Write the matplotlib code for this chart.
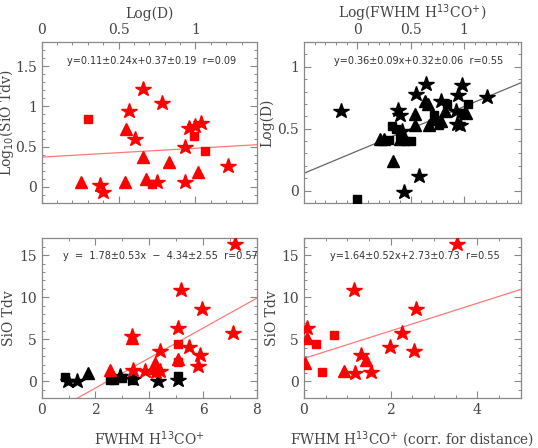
import matplotlib.pyplot as plt
from matplotlib.ticker import MultipleLocator

RED = '#ff0000'
TXT = '#444444'
FRAME = '#888888'

# --- Panel 1 (top left): Log10(SiO Tdv) vs Log(D), red
p1_star_x = [0.38, 0.40, 0.57, 0.61, 0.66, 0.75, 0.78, 0.935, 0.935, 0.96, 0.995, 1.035, 1.21]
p1_star_y = [0.02, -0.07, 0.94, 0.59, 1.22, 0.06, 1.04, 0.06, 0.50, 0.73, 0.76, 0.79, 0.26]
p1_tri_x = [0.255, 0.54, 0.55, 0.66, 0.68, 0.83, 1.02]
p1_tri_y = [0.06, 0.06, 0.72, 0.375, 0.10, 0.31, 0.19]
p1_sq_x = [0.30, 0.72, 0.99, 1.065]
p1_sq_y = [0.85, 0.04, 0.63, 0.44]
p1_fit = (0.11, 0.37)

# --- Panel 2 (top right): Log(D) vs Log(FWHM H13CO+), black
p2_star_x = [-0.15, 0.44, 0.58, 0.38, 0.40, 0.55, 0.64, 0.78, 0.92, 0.945, 0.975, 0.935, 0.96, 1.21, 0.42]
p2_star_y = [0.64, -0.01, 0.12, 0.65, 0.61, 0.78, 0.86, 0.72, 0.64, 0.77, 0.85, 0.54, 0.53, 0.76, 0.48]
p2_tri_x = [0.33, 0.21, 0.25, 0.40, 0.535, 0.535, 0.63, 0.67, 0.78, 0.82, 1.02, 0.72, 0.66]
p2_tri_y = [0.24, 0.42, 0.42, 0.42, 0.62, 0.53, 0.72, 0.53, 0.56, 0.64, 0.63, 0.58, 0.70]
p2_sq_x = [0.0, 0.32, 0.36, 0.30, 0.45, 0.50, 0.72, 0.84, 1.04, 0.97, 0.76, 0.40]
p2_sq_y = [-0.07, 0.52, 0.50, 0.41, 0.40, 0.40, 0.61, 0.70, 0.70, 0.63, 0.53, 0.44]
p2_fit = (0.36, 0.32)

# --- Panel 3 (bottom left): SiO Tdv vs FWHM H13CO+
p3_star_x = [7.19, 5.19, 5.96, 5.07, 7.11, 3.37, 5.48, 4.39, 5.90, 5.81, 3.85, 3.38, 4.25, 4.40]
p3_star_y = [16.3, 10.9, 8.6, 6.3, 5.75, 5.35, 4.05, 3.6, 3.2, 1.8, 1.2, 1.3, 1.1, 1.2]
p3_tri_x = [3.37, 2.53, 4.20, 5.07, 4.20]
p3_tri_y = [5.15, 1.3, 2.2, 2.7, 1.6]
p3_sq_x = [5.07, 5.07]
p3_sq_y = [4.4, 2.3]
p3_kstar_x = [0.99, 1.32, 2.90, 3.40, 4.33, 5.07]
p3_kstar_y = [0.04, 0.04, 0.6, 0.3, 0.04, 0.15]
p3_ktri_x = [1.73]
p3_ktri_y = [1.0]
p3_ksq_x = [0.87, 2.53, 2.70, 3.00, 3.37, 5.07]
p3_ksq_y = [0.5, 0.2, 0.2, 0.4, 0.2, 0.7]
p3_fit = (1.78, -4.34)

# --- Panel 4 (bottom right): SiO Tdv vs FWHM corrected for distance
p4_star_x = [3.54, 1.15, 2.59, 0.08, 2.25, 1.99, 2.53, 1.32, 1.17, 1.55]
p4_star_y = [16.3, 10.9, 8.6, 6.3, 5.75, 4.05, 3.6, 3.2, 0.95, 1.15]
p4_tri_x = [0.08, 1.44, 0.03, 0.92]
p4_tri_y = [5.2, 2.6, 2.2, 1.2]
p4_sq_x = [0.69, 0.28, 0.42]
p4_sq_y = [5.5, 4.4, 1.1]
p4_fit = (1.64, 2.73)

fig = plt.figure(figsize=(5.38, 4.48), dpi=100)
plt.rcParams['font.family'] = 'DejaVu Serif'

ax1 = fig.add_axes([0.0775, 0.547, 0.400, 0.359])
ax2 = fig.add_axes([0.565, 0.547, 0.403, 0.359])
ax3 = fig.add_axes([0.0775, 0.111, 0.400, 0.357])
ax4 = fig.add_axes([0.565, 0.111, 0.403, 0.357])


def pts(ax, x, y, m, c):
    ms = {'*': 11.5, '^': 8.5, 's': 6}[m]
    ax.plot(x, y, linestyle='none', marker=m, ms=ms, color=c, mec=c, zorder=3)


def style(ax, xmaj, xmin, ymaj, ymin, top=False):
    for s in ax.spines.values():
        s.set_color(FRAME)
        s.set_linewidth(0.9)
    ax.xaxis.set_major_locator(MultipleLocator(xmaj))
    ax.xaxis.set_minor_locator(MultipleLocator(xmin))
    ax.yaxis.set_major_locator(MultipleLocator(ymaj))
    ax.yaxis.set_minor_locator(MultipleLocator(ymin))
    ax.tick_params(which='both', direction='in', top=True, right=True,
                   color=FRAME, labelcolor=TXT, labelsize=10)
    ax.tick_params(which='major', length=5, width=0.8)
    ax.tick_params(which='minor', length=2.5, width=0.7)
    if top:
        ax.tick_params(labeltop=True, labelbottom=False)
        ax.xaxis.set_label_position('top')


def fmt(v, pos):
    return '%g' % v


def fit_line(ax, fit, xlim, c, lw):
    a, b = fit
    ax.plot(list(xlim), [a * xlim[0] + b, a * xlim[1] + b], color=c, lw=lw, zorder=2)


# panel 1
xl1 = (0, 1.4)
fit_line(ax1, p1_fit, xl1, '#ff7a7a', 0.9)
pts(ax1, p1_star_x, p1_star_y, '*', RED)
pts(ax1, p1_tri_x, p1_tri_y, '^', RED)
pts(ax1, p1_sq_x, p1_sq_y, 's', RED)
ax1.set_xlim(*xl1)
ax1.set_ylim(-0.2, 1.8)
style(ax1, 0.5, 0.1, 0.5, 0.1, top=True)
ax1.set_xlabel('Log(D)', fontsize=10, color=TXT, labelpad=4)
ax1.set_ylabel('Log$_{10}$(SiO Tdv)', fontsize=10, color=TXT, labelpad=-1)
ax1.text(0.51, 0.88, 'y=0.11\u00b10.24x+0.37\u00b10.19  r=0.09', transform=ax1.transAxes,
         ha='center', va='center', fontsize=7, family='DejaVu Sans', color='#333333')

# panel 2
xl2 = (-0.5, 1.53)
fit_line(ax2, p2_fit, xl2, '#666666', 0.9)
pts(ax2, p2_star_x, p2_star_y, '*', 'black')
pts(ax2, p2_tri_x, p2_tri_y, '^', 'black')
pts(ax2, p2_sq_x, p2_sq_y, 's', 'black')
ax2.set_xlim(*xl2)
ax2.set_ylim(-0.1, 1.2)
style(ax2, 0.5, 0.1, 0.5, 0.1, top=True)
ax2.set_xticks([0, 0.5, 1])
ax2.set_xlabel('Log(FWHM H$^{13}$CO$^{+}$)', fontsize=10, color=TXT, labelpad=4)
ax2.set_ylabel('Log(D)', fontsize=10, color=TXT, labelpad=2)
ax2.text(0.53, 0.88, 'y=0.36\u00b10.09x+0.32\u00b10.06  r=0.55', transform=ax2.transAxes,
         ha='center', va='center', fontsize=7, family='DejaVu Sans', color='#333333')

# panel 3
xl3 = (0, 8)
fit_line(ax3, p3_fit, xl3, '#ff7a7a', 0.9)
pts(ax3, p3_ksq_x, p3_ksq_y, 's', 'black')
pts(ax3, p3_ktri_x, p3_ktri_y, '^', 'black')
pts(ax3, p3_kstar_x, p3_kstar_y, '*', 'black')
pts(ax3, p3_sq_x, p3_sq_y, 's', RED)
pts(ax3, p3_tri_x, p3_tri_y, '^', RED)
pts(ax3, p3_star_x, p3_star_y, '*', RED)
ax3.set_xlim(*xl3)
ax3.set_ylim(-2, 17)
style(ax3, 2, 1, 5, 1)
ax3.set_xlabel('FWHM H$^{13}$CO$^{+}$', fontsize=10, color=TXT, labelpad=9)
ax3.set_ylabel('SiO Tdv', fontsize=10, color=TXT, labelpad=2)
ax3.text(0.10, 0.89, 'y  =  1.78\u00b10.53x  \u2212  4.34\u00b12.55  r=0.57', transform=ax3.transAxes,
         ha='left', va='center', fontsize=7, family='DejaVu Sans', color='#333333', clip_on=False)

# panel 4
xl4 = (0, 5)
fit_line(ax4, p4_fit, xl4, '#ff7a7a', 0.9)
pts(ax4, p4_star_x, p4_star_y, '*', RED)
pts(ax4, p4_tri_x, p4_tri_y, '^', RED)
pts(ax4, p4_sq_x, p4_sq_y, 's', RED)
ax4.set_xlim(*xl4)
ax4.set_ylim(-2, 17)
style(ax4, 2, 0.5, 5, 1)
ax4.set_xlabel('FWHM H$^{13}$CO$^{+}$ (corr. for distance)', fontsize=9.8, color=TXT, labelpad=9)
ax4.set_ylabel('SiO Tdv', fontsize=10, color=TXT, labelpad=2)
ax4.text(0.51, 0.89, 'y=1.64\u00b10.52x+2.73\u00b10.73  r=0.55', transform=ax4.transAxes,
         ha='center', va='center', fontsize=7, family='DejaVu Sans', color='#333333')

for ax in (ax1, ax2, ax3, ax4):
    ax.xaxis.set_major_formatter(fmt)
    ax.yaxis.set_major_formatter(fmt)

fig.savefig('out.png', dpi=100)
